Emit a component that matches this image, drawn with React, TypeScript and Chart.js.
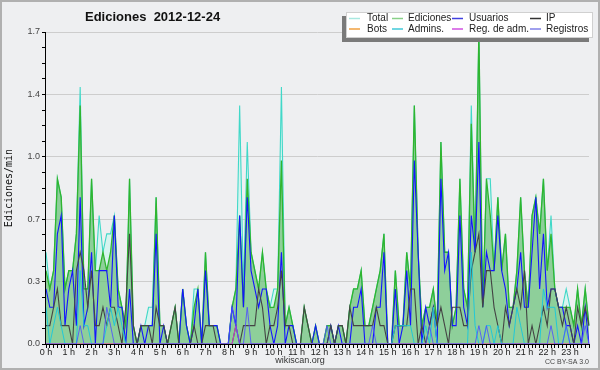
import React, { useEffect, useRef } from 'react';
import { Chart, registerables } from 'chart.js';

Chart.register(...registerables);

// 10-minute slots of 2012-12-24
const times: string[] = Array.from({ length: 144 }, (_, i) =>
  `${String(Math.floor(i / 6)).padStart(2, '0')}:${String((i % 6) * 10).padStart(2, '0')}`
);

const xTickLabels = ['0 h', '1 h', '2 h', '3 h', '4 h', '5 h', '6 h', '7 h', '8 h', '9 h', '10 h', '11 h',
  '12 h', '13 h', '14 h', '15 h', '16 h', '17 h', '18 h', '19 h', '20 h', '21 h', '22 h', '23 h'];

const yTickValues = [0, 0.085, 0.17, 0.255, 0.34, 0.425, 0.51, 0.595, 0.68, 0.765, 0.85, 0.935,
  1.02, 1.105, 1.19, 1.275, 1.36, 1.445, 1.53, 1.615, 1.7];
const yTickLabels = ['0.0', '0.3', '0.7', '1.0', '1.4', '1.7'];

const total = [
  0.5, 0.3, 0.4, 0.9, 0.8, 0.3, 0.4, 0.4, 0.6, 1.4, 0.3, 0.3,
  0.9, 0.4, 0.7, 0.5, 0.6, 0.6, 0.7, 0.3, 0.2, 0.1, 0.9, 0.1,
  0, 0.1, 0.1, 0.2, 0.2, 0.8, 0.1, 0.1, 0, 0.1, 0.2, 0,
  0.3, 0.1, 0, 0.3, 0.3, 0, 0.5, 0.1, 0.1, 0.1, 0, 0,
  0, 0.2, 0.3, 1.3, 0.3, 1.1, 0.5, 0.4, 0.3, 0.5, 0.3, 0.2,
  0.3, 0.3, 1.4, 0.1, 0.2, 0.1, 0, 0, 0.2, 0.1, 0, 0.1,
  0, 0, 0.1, 0.1, 0, 0.1, 0.1, 0, 0.2, 0.3, 0.3, 0.4,
  0.1, 0.1, 0.2, 0.3, 0.4, 0.6, 0, 0, 0.4, 0.1, 0.1, 0.5,
  0.3, 1.3, 0.5, 0.1, 0.2, 0.2, 0.3, 0.1, 1.1, 0.5, 0.5, 0.1,
  0.2, 0.9, 0.3, 0.2, 1.3, 0.5, 1.7, 0.2, 0.9, 0.9, 0.4, 0.8,
  0.4, 0.6, 0.2, 0.2, 0.4, 0.8, 0.4, 0.2, 0.7, 0.8, 0.6, 0.9,
  0.4, 0.7, 0.3, 0.2, 0.2, 0.3, 0.2, 0.1, 0.3, 0.1, 0.3, 0.1,
];

const ediciones = [
  0.4, 0.3, 0.4, 0.9, 0.8, 0.3, 0.4, 0.4, 0.6, 1.3, 0.3, 0.3,
  0.9, 0.4, 0.4, 0.5, 0.4, 0.5, 0.7, 0.3, 0.2, 0.1, 0.9, 0.1,
  0, 0.1, 0.1, 0.1, 0.1, 0.8, 0.1, 0.1, 0, 0.1, 0.2, 0,
  0.3, 0.1, 0, 0.2, 0.3, 0, 0.5, 0.1, 0.1, 0.1, 0, 0,
  0, 0.2, 0.3, 0.7, 0.2, 0.9, 0.5, 0.4, 0.3, 0.5, 0.3, 0.2,
  0.2, 0.3, 1.0, 0.1, 0.2, 0.1, 0, 0, 0.2, 0.1, 0, 0.1,
  0, 0, 0.1, 0.1, 0, 0.1, 0.1, 0, 0.2, 0.3, 0.3, 0.4,
  0.1, 0.1, 0.2, 0.3, 0.4, 0.6, 0, 0, 0.4, 0.1, 0.1, 0.5,
  0.3, 1.3, 0.5, 0.1, 0.2, 0.2, 0.3, 0.1, 1.1, 0.5, 0.5, 0.1,
  0.2, 0.9, 0.3, 0.2, 1.2, 0.5, 1.7, 0.2, 0.9, 0.7, 0.4, 0.8,
  0.4, 0.6, 0.2, 0.2, 0.4, 0.8, 0.4, 0.2, 0.7, 0.8, 0.6, 0.9,
  0.4, 0.6, 0.3, 0.2, 0.2, 0.2, 0.2, 0.1, 0.3, 0.1, 0.3, 0.1,
];

const usuarios = [
  0.3, 0.2, 0.2, 0.6, 0.7, 0.1, 0.3, 0.4, 0.1, 0.8, 0.1, 0.2,
  0.5, 0, 0.4, 0.4, 0.4, 0.2, 0.7, 0.2, 0.2, 0, 0.3, 0,
  0, 0.1, 0, 0.1, 0.1, 0.6, 0, 0.1, 0, 0, 0, 0,
  0.3, 0.1, 0, 0.1, 0.3, 0, 0.4, 0.1, 0.1, 0.1, 0, 0,
  0, 0.2, 0.1, 0.7, 0.2, 0.8, 0.4, 0.3, 0.2, 0.3, 0.3, 0.1,
  0, 0.1, 0.5, 0, 0.1, 0.1, 0, 0, 0, 0, 0, 0.1,
  0, 0, 0, 0.1, 0, 0.1, 0, 0, 0, 0.2, 0.2, 0.3,
  0, 0, 0, 0.2, 0.2, 0.5, 0, 0, 0.3, 0, 0.1, 0.4,
  0.1, 1.0, 0.5, 0, 0.2, 0.1, 0.2, 0, 0.9, 0.4, 0.5, 0.1,
  0.1, 0.7, 0.2, 0.1, 0.7, 0.5, 1.1, 0.2, 0.5, 0.4, 0.4, 0.7,
  0.4, 0.3, 0.1, 0.2, 0.3, 0.5, 0.2, 0.2, 0.5, 0.8, 0.3, 0.6,
  0.2, 0.3, 0.3, 0.2, 0.2, 0.1, 0.1, 0, 0.1, 0, 0.2, 0,
];

const ip = [
  0.1, 0.1, 0.2, 0.3, 0.1, 0.1, 0.1, 0, 0.4, 0.5, 0.4, 0.2,
  0.4, 0.1, 0.1, 0.2, 0.1, 0.2, 0.2, 0.1, 0, 0.2, 0.6, 0.1,
  0, 0.1, 0.1, 0.1, 0, 0.2, 0.1, 0.1, 0, 0.1, 0.2, 0,
  0, 0, 0, 0.1, 0, 0, 0.1, 0.1, 0.1, 0, 0, 0,
  0, 0, 0.1, 0, 0.1, 0.1, 0.1, 0.1, 0.3, 0.2, 0, 0.1,
  0.1, 0.2, 0.4, 0.1, 0.1, 0, 0, 0, 0.2, 0.1, 0, 0,
  0, 0, 0, 0.1, 0, 0.1, 0.1, 0, 0.2, 0.1, 0.1, 0.1,
  0.1, 0.1, 0.1, 0.2, 0.1, 0.1, 0, 0, 0.1, 0.1, 0.1, 0.1,
  0.3, 0.3, 0, 0.1, 0, 0.1, 0.2, 0.1, 0.2, 0.1, 0, 0.2,
  0.2, 0.2, 0.1, 0.1, 0.4, 0.5, 0.6, 0.2, 0.4, 0.4, 0.2, 0.1,
  0, 0.2, 0.1, 0.2, 0.3, 0.2, 0.4, 0, 0.1, 0, 0.1, 0.2,
  0.1, 0.3, 0.3, 0.2, 0.1, 0.2, 0.1, 0, 0.2, 0.1, 0.2, 0.1,
];

const bots = [
  0, 0, 0, 0, 0, 0, 0, 0, 0, 0, 0, 0,
  0, 0, 0, 0, 0, 0, 0, 0, 0, 0, 0, 0,
  0, 0, 0, 0, 0, 0, 0, 0, 0, 0, 0, 0,
  0, 0, 0, 0, 0, 0, 0, 0, 0, 0, 0, 0,
  0, 0, 0, 0, 0, 0, 0, 0, 0, 0, 0, 0,
  0, 0, 0, 0, 0, 0, 0, 0, 0, 0, 0, 0,
  0, 0, 0, 0, 0, 0, 0, 0, 0, 0, 0, 0,
  0, 0, 0, 0, 0, 0, 0, 0, 0, 0, 0, 0,
  0, 0, 0, 0, 0, 0, 0, 0, 0, 0, 0, 0,
  0, 0, 0, 0, 0, 0, 0, 0, 0, 0, 0, 0,
  0, 0, 0, 0, 0, 0, 0, 0, 0, 0, 0, 0,
  0, 0, 0, 0, 0, 0, 0, 0, 0, 0, 0, 0,
];

const admins = [
  0.2, 0, 0.1, 0.2, 0.1, 0, 0, 0, 0, 0.4, 0.1, 0.1,
  0, 0, 0, 0, 0.1, 0.2, 0.1, 0.2, 0.1, 0, 0, 0,
  0, 0, 0, 0, 0, 0, 0, 0, 0, 0, 0, 0,
  0, 0, 0, 0, 0, 0, 0, 0, 0, 0, 0, 0,
  0, 0, 0, 0, 0, 0, 0, 0, 0, 0, 0, 0,
  0, 0, 0, 0, 0, 0, 0, 0, 0, 0, 0, 0,
  0, 0, 0, 0, 0, 0, 0, 0, 0, 0, 0, 0,
  0, 0, 0, 0, 0, 0, 0, 0, 0.1, 0.1, 0.1, 0.1,
  0.1, 0, 0, 0, 0.1, 0, 0.2, 0, 0, 0, 0, 0,
  0, 0, 0, 0, 0.5, 0.1, 0, 0, 0.1, 0.1, 0, 0.1,
  0, 0, 0, 0, 0.2, 0.1, 0, 0, 0, 0, 0, 0.3,
  0.2, 0.2, 0.2, 0, 0, 0.1, 0, 0, 0, 0, 0, 0,
];

const regAdm = [
  0, 0, 0, 0, 0, 0, 0, 0, 0, 0, 0, 0,
  0, 0, 0, 0, 0, 0, 0, 0, 0, 0, 0, 0,
  0, 0, 0, 0, 0, 0, 0, 0, 0, 0, 0, 0,
  0, 0, 0, 0, 0, 0, 0, 0, 0, 0, 0, 0,
  0, 0, 0.1, 0, 0, 0, 0, 0, 0, 0, 0, 0,
  0, 0, 0, 0, 0, 0, 0, 0, 0, 0, 0, 0,
  0, 0, 0, 0, 0, 0, 0, 0, 0, 0, 0, 0,
  0, 0, 0, 0, 0, 0, 0, 0, 0, 0, 0, 0,
  0, 0, 0, 0, 0, 0, 0, 0, 0, 0, 0, 0,
  0, 0, 0, 0, 0, 0, 0, 0, 0, 0, 0, 0,
  0, 0, 0, 0, 0, 0, 0, 0, 0, 0, 0, 0,
  0, 0, 0, 0, 0, 0, 0, 0, 0, 0, 0, 0,
];

const registros = [
  0, 0, 0, 0, 0, 0, 0, 0, 0, 0.1, 0, 0,
  0, 0, 0, 0, 0.2, 0.1, 0, 0, 0, 0, 0, 0,
  0, 0, 0, 0, 0, 0, 0, 0, 0, 0, 0, 0,
  0, 0, 0, 0, 0, 0, 0, 0, 0, 0, 0, 0,
  0, 0.2, 0.1, 0, 0, 0.2, 0, 0, 0, 0, 0, 0,
  0, 0, 0, 0, 0, 0, 0, 0, 0, 0, 0, 0,
  0, 0, 0.1, 0, 0, 0, 0, 0, 0, 0, 0, 0,
  0, 0, 0.1, 0, 0, 0, 0, 0, 0, 0, 0, 0,
  0, 0, 0, 0, 0, 0.1, 0, 0, 0, 0, 0, 0,
  0, 0, 0, 0, 0, 0, 0.1, 0, 0.1, 0, 0, 0,
  0, 0, 0, 0, 0, 0, 0, 0, 0, 0, 0, 0,
  0, 0.1, 0, 0, 0, 0.1, 0, 0, 0, 0, 0.1, 0,
];

const seriesNames = ['Total', 'Ediciones', 'Usuarios', 'IP', 'Bots', 'Admins.', 'Reg. de adm.', 'Registros'];
const legendSwatch = ['#a8e8e0', '#88d088', '#4040e0', '#333333', '#f0a040', '#40c8d8', '#d050e0', '#8080e8'];

const FONT = '"Liberation Sans", Arial, sans-serif';

const decorPlugin = {
  id: 'decor',
  beforeDraw(chart: any) {
    const { ctx, width, height } = chart;
    ctx.save();
    ctx.fillStyle = '#eeeff1';
    ctx.fillRect(0, 0, width, height);
    ctx.restore();
  },
  afterDatasetsDraw(chart: any) {
    const { ctx, chartArea } = chart;
    const { left, right, top, bottom } = chartArea;
    ctx.save();
    ctx.strokeStyle = '#000';
    ctx.lineWidth = 1;
    ctx.beginPath();
    ctx.moveTo(left - 0.5, top);
    ctx.lineTo(left - 0.5, bottom + 1);
    ctx.moveTo(left - 1, bottom + 0.5);
    ctx.lineTo(right + 1, bottom + 0.5);
    ctx.stroke();
    ctx.restore();
  },
  afterDraw(chart: any) {
    const { ctx, width, height } = chart;
    ctx.save();
    // title
    ctx.fillStyle = '#111';
    ctx.font = `bold 13px ${FONT}`;
    ctx.textBaseline = 'middle';
    ctx.textAlign = 'left';
    ctx.fillText('Ediciones  2012-12-24', 85, 17);

    // legend
    ctx.fillStyle = '#7a7a7a';
    ctx.fillRect(342, 16, 247, 26);
    ctx.fillStyle = '#ffffff';
    ctx.fillRect(346, 12, 247, 26);
    ctx.strokeStyle = '#d0d0d0';
    ctx.lineWidth = 1;
    ctx.strokeRect(346.5, 12.5, 246, 25);
    const swX = [349, 392, 452, 530];
    const txX = [367, 408, 469, 546];
    const rowY = [18.5, 29];
    ctx.font = `10px ${FONT}`;
    seriesNames.forEach((name, k) => {
      const c = k % 4;
      const r = Math.floor(k / 4);
      ctx.strokeStyle = legendSwatch[k];
      ctx.lineWidth = 1.5;
      ctx.beginPath();
      ctx.moveTo(swX[c], rowY[r]);
      ctx.lineTo(swX[c] + 11, rowY[r]);
      ctx.stroke();
      ctx.fillStyle = '#222';
      ctx.fillText(name, txX[c], rowY[r]);
    });

    // footer
    ctx.fillStyle = '#333';
    ctx.font = `9px ${FONT}`;
    ctx.textAlign = 'center';
    ctx.fillText('wikiscan.org', 300, 361);
    ctx.font = `7px ${FONT}`;
    ctx.textAlign = 'right';
    ctx.fillStyle = '#444';
    ctx.fillText('CC BY-SA 3.0', 589, 362);

    // frame
    ctx.strokeStyle = '#b0b0b0';
    ctx.lineWidth = 2;
    ctx.strokeRect(1, 1, width - 2, height - 2);
    ctx.restore();
  },
};

function line(label: string, data: number[], color: string, order: number, extra: any = {}) {
  return {
    label,
    data,
    borderColor: color,
    borderWidth: 1.1,
    pointRadius: 0,
    tension: 0,
    fill: false,
    order,
    ...extra,
  };
}

export default function App() {
  const ref = useRef<HTMLCanvasElement | null>(null);

  useEffect(() => {
    if (!ref.current) return;
    const chart = new Chart(ref.current, {
      type: 'line',
      data: {
        labels: times,
        datasets: [
          line('Total', total, '#40d8c8', 8, { fill: 'origin', backgroundColor: 'rgba(190,250,238,0.5)' }),
          line('Ediciones', ediciones, '#2fb52f', 7, { fill: 'origin', backgroundColor: 'rgba(70,170,70,0.5)', borderWidth: 1.3 }),
          line('Usuarios', usuarios, '#1414ff', 6),
          line('IP', ip, '#444444', 5),
          line('Bots', bots, '#f0a040', 4),
          line('Admins.', admins, '#22c8d8', 3, { borderWidth: 1 }),
          line('Reg. de adm.', regAdm, '#cc44cc', 2, { borderWidth: 1 }),
          line('Registros', registros, 'rgba(80,80,255,0.85)', 1, { borderWidth: 1 }),
        ],
      },
      options: {
        responsive: false,
        animation: false,
        layout: { padding: { left: 0, top: 32, right: 11, bottom: 0 } },
        plugins: {
          legend: { display: false },
          title: { display: false },
          tooltip: { enabled: false },
        },
        scales: {
          x: {
            type: 'category',
            offset: false,
            grid: {
              display: true,
              drawOnChartArea: false,
              drawTicks: true,
              tickLength: 4,
              tickColor: '#000',
              color: '#000',
            },
            border: { display: false },
            ticks: {
              autoSkip: false,
              maxRotation: 0,
              minRotation: 0,
              padding: -1,
              color: '#222',
              font: { family: FONT, size: 9 },
              callback: (_v: any, i: number) => (i % 6 === 0 ? xTickLabels[i / 6] : ''),
            },
            afterFit: (s: any) => { s.height = 26; },
          },
          y: {
            type: 'linear',
            min: 0,
            max: 1.7,
            afterBuildTicks: (s: any) => { s.ticks = yTickValues.map((v) => ({ value: v })); },
            grid: {
              color: (c: any) => (c.index % 4 === 0 && c.index > 0 ? '#cdcdcd' : 'rgba(0,0,0,0)'),
              tickColor: '#000',
              tickLength: 4,
              drawTicks: true,
            },
            border: { display: false },
            ticks: {
              padding: 2,
              color: '#444',
              font: { family: FONT, size: 9 },
              callback: (_v: any, i: number) => (i % 4 === 0 ? yTickLabels[i / 4] : ''),
            },
            title: {
              display: true,
              text: 'Ediciones/min',
              color: '#111',
              font: { family: '"DejaVu Sans Mono", monospace', size: 10 },
              padding: { top: 3, bottom: 0 },
            },
            afterFit: (s: any) => { s.width = 46; },
          },
        },
      },
      plugins: [decorPlugin],
    } as any);
    return () => chart.destroy();
  }, []);

  return (
    <div style={{ position: 'absolute', left: 0, top: 0, width: 600, height: 370 }}>
      <canvas ref={ref} width={600} height={370} />
    </div>
  );
}
